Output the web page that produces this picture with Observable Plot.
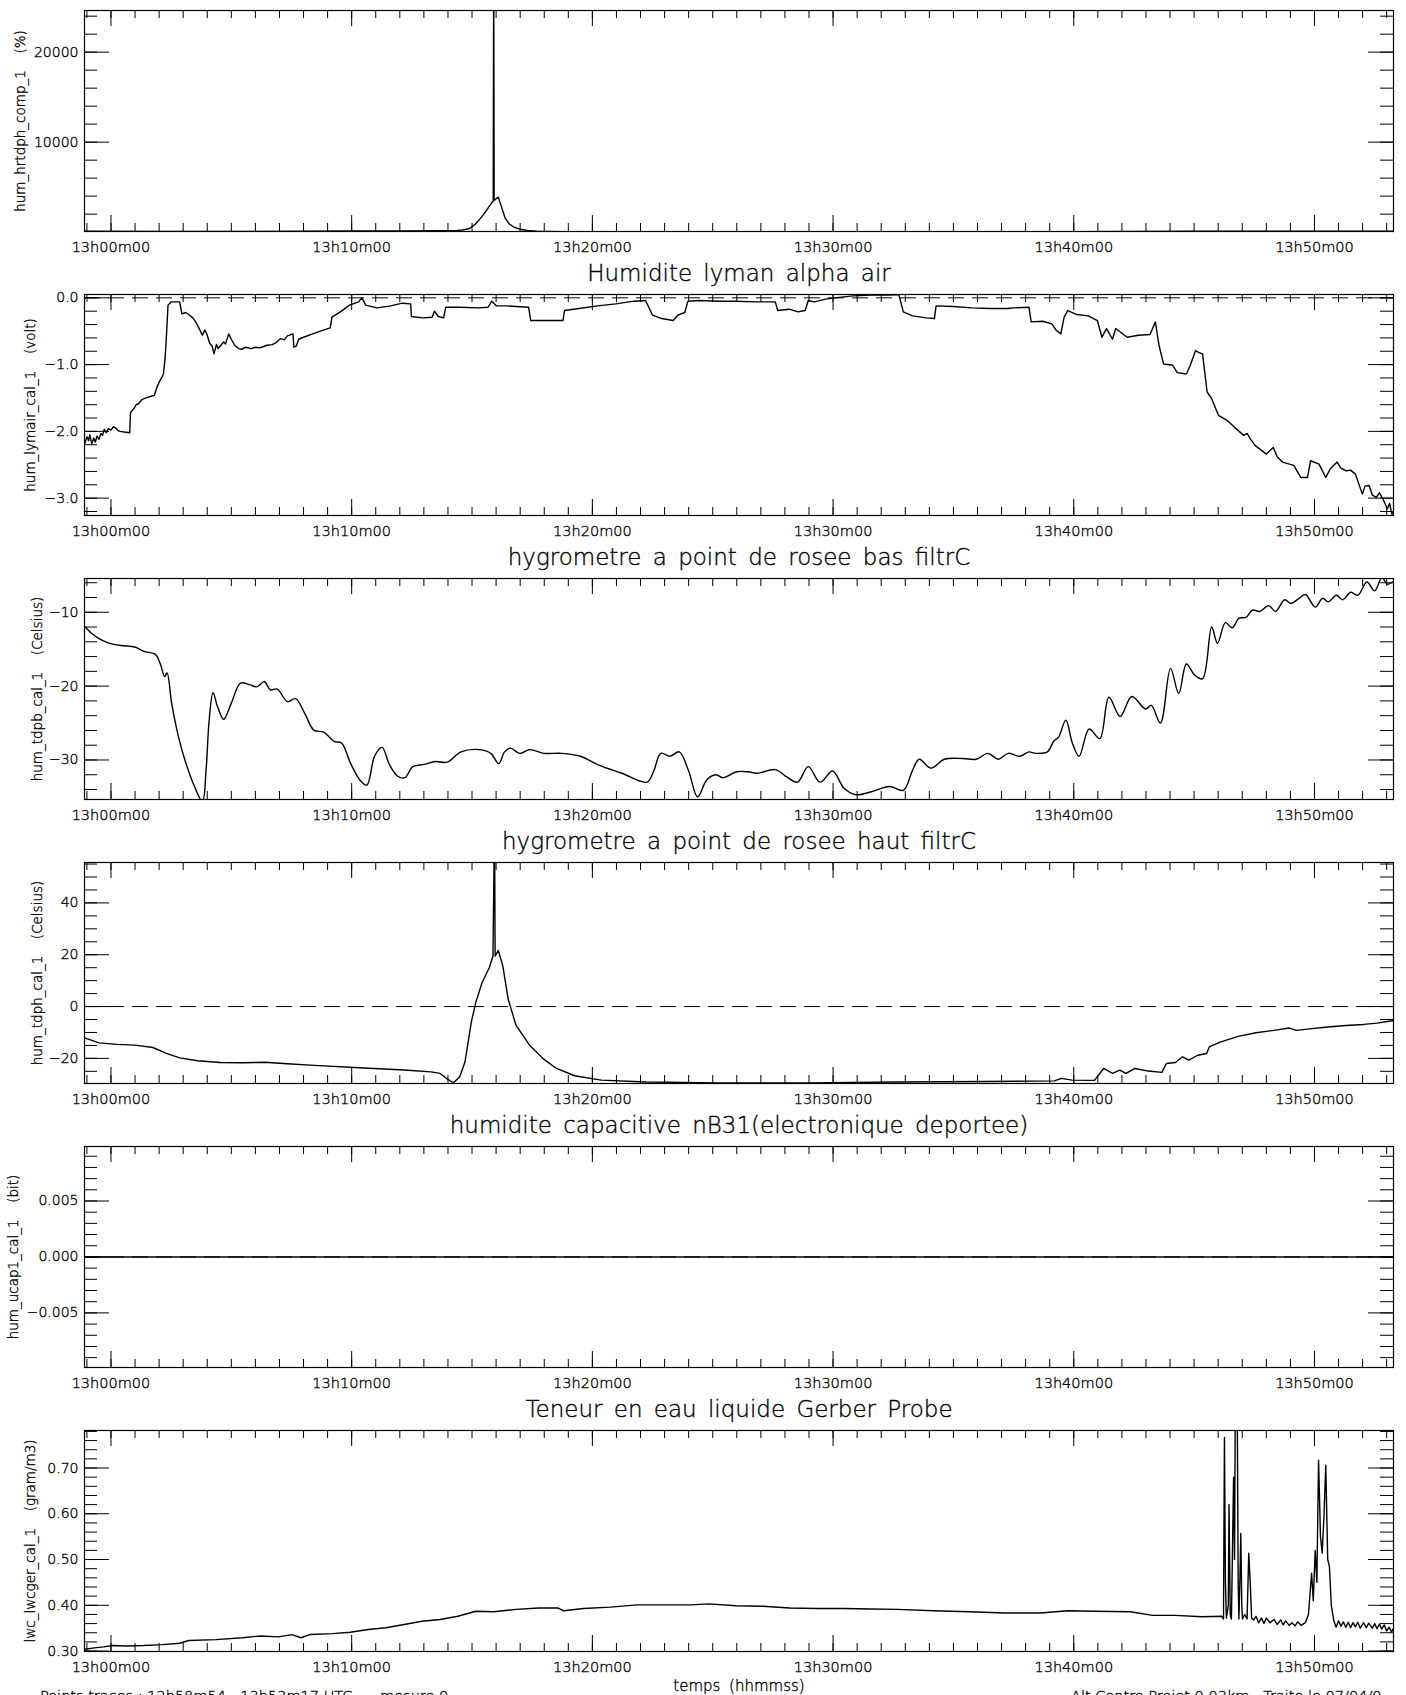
<!DOCTYPE html>
<html><head><meta charset="utf-8">
<script src="https://cdn.jsdelivr.net/npm/d3@7"></script>
<script src="https://cdn.jsdelivr.net/npm/@observablehq/plot@0.6"></script>
<style>
html,body{margin:0;padding:0;background:#fff;}
body{width:1406px;height:1695px;overflow:hidden;position:relative;font-family:"DejaVu Sans",sans-serif;}
svg{display:block;}
svg text{stroke:black;stroke-width:0.35px;}
.foot{position:absolute;top:1689px;font-size:14.5px;line-height:14.5px;white-space:pre;color:#000;font-weight:200;-webkit-text-stroke:0.35px black;}
</style></head><body>
<div id="charts"></div>
<div class="foot" style="left:40px" id="footL"></div>
<div class="foot" style="left:1071px" id="footR"></div>
<script>
// ---- time axis (minutes after 13h00m00) ----
const xStart = -66 / 60;      // 12h58m54
const xEnd = 3197 / 60;       // 13h53m17
const xMajor = [0, 10, 20, 30, 40, 50];
const xLabels = ["13h00m00", "13h10m00", "13h20m00", "13h30m00", "13h40m00", "13h50m00"];
const xMinor = d3.range(-1, 54);
const xTitle = "temps (hhmmss)";
const footLeft = "Points traces : 12h58m54 - 13h53m17 UTC      mesure 0";
const footRight = "Alt Centre Projet 0.03km   Traite le 07/04/0";

// ---- panel titles and y labels ----
const titles = ["", "Humidite lyman alpha air", "hygrometre a point de rosee bas filtrC",
  "hygrometre a point de rosee haut filtrC", "humidite capacitive nB31(electronique deportee)",
  "Teneur en eau liquide Gerber Probe"];
const yLabels = ["hum_hrtdph_comp_1  (%)", "hum_lymair_cal_1  (volt)", "hum_tdpb_cal_1  (Celsius)",
  "hum_tdph_cal_1  (Celsius)", "hum_ucap1_cal_1  (bit)", "lwc_lwcger_cal_1  (gram/m3)"];

// ---- series: [minutes after 13h00, value] ----
const hrtdph = [[-1.1,90],[2,85],[5,80],[8,90],[10,120],[12,140],[13.5,150],[14.3,160],[14.6,230],[14.88,370],
  [15.1,800],[15.25,1220],[15.4,1700],[15.53,2150],[15.7,2800],[15.82,3260],[15.88,3450],[15.9,30000],[15.92,3500],
  [15.95,3600],[16.09,3890],[16.2,3000],[16.37,1590],[16.55,900],[16.74,555],[17.0,320],[17.3,185],[17.7,110],
  [18.2,80],[18.6,60],[20,50],[25,50],[30,50],[35,55],[40,60],[45,90],[48,100],[53.28,100]];

const lymair = [[-1.08,-2.18],[-1.0,-2.08],[-0.93,-2.14],[-0.88,-2.05],[-0.8,-2.19],[-0.72,-2.1],[-0.65,-2.16],
  [-0.58,-2.07],[-0.5,-2.12],[-0.42,-2.03],[-0.35,-2.06],[-0.28,-1.97],[-0.2,-2.02],[-0.11,-1.96],[0.0,-1.98],
  [0.1,-1.93],[0.2,-1.95],[0.3,-1.99],[0.4,-2.0],[0.55,-2.01],[0.78,-2.02],[0.81,-1.72],[0.95,-1.66],[1.05,-1.6],
  [1.13,-1.59],[1.3,-1.52],[1.51,-1.49],[1.7,-1.47],[1.8,-1.46],[1.9,-1.35],[1.99,-1.27],[2.1,-1.2],[2.18,-1.14],
  [2.25,-0.9],[2.3,-0.6],[2.37,-0.11],[2.5,-0.06],[2.85,-0.06],[2.95,-0.24],[3.1,-0.22],[3.23,-0.25],[3.4,-0.3],
  [3.52,-0.36],[3.65,-0.45],[3.8,-0.56],[3.9,-0.48],[3.99,-0.55],[4.1,-0.68],[4.2,-0.72],[4.28,-0.84],[4.38,-0.7],
  [4.45,-0.76],[4.57,-0.71],[4.68,-0.66],[4.76,-0.69],[4.89,-0.54],[5.0,-0.62],[5.14,-0.71],[5.3,-0.76],[5.43,-0.77],
  [5.6,-0.74],[5.81,-0.76],[6.0,-0.74],[6.19,-0.75],[6.48,-0.71],[6.7,-0.7],[6.86,-0.67],[7.05,-0.61],[7.2,-0.63],
  [7.33,-0.57],[7.56,-0.54],[7.6,-0.74],[7.7,-0.72],[7.8,-0.62],[8.0,-0.59],[8.38,-0.54],[8.76,-0.49],[9.11,-0.45],
  [9.18,-0.29],[9.53,-0.21],[9.91,-0.11],[10.29,-0.06],[10.42,0.0],[10.5,-0.05],[10.58,-0.11],[11.05,-0.15],
  [11.63,-0.12],[12.1,-0.08],[12.45,-0.09],[12.48,-0.28],[12.96,-0.3],[13.34,-0.29],[13.44,-0.2],[13.6,-0.28],
  [13.82,-0.3],[13.91,-0.14],[14.49,-0.14],[15.25,-0.15],[15.67,-0.14],[15.82,-0.05],[16.01,-0.12],[16.39,-0.12],
  [17.35,-0.14],[17.44,-0.34],[18.11,-0.34],[18.78,-0.34],[18.84,-0.19],[19.45,-0.16],[20.21,-0.12],[20.97,-0.09],
  [21.74,-0.05],[22.21,-0.04],[22.5,-0.26],[22.88,-0.31],[23.36,-0.34],[23.55,-0.26],[23.84,-0.22],[23.97,-0.05],
  [24.41,-0.04],[25.32,-0.05],[25.9,-0.05],[26.85,-0.06],[27.6,-0.06],[27.7,-0.19],[28.17,-0.17],[28.55,-0.21],
  [28.84,-0.19],[28.97,-0.04],[29.22,-0.06],[29.69,-0.02],[30.07,0.0],[30.83,0.03],[31.59,0.04],[32.35,0.04],
  [32.73,0.05],[32.92,-0.21],[33.3,-0.27],[33.87,-0.3],[34.21,-0.31],[34.28,-0.12],[35.0,-0.13],[35.76,-0.15],
  [36.52,-0.16],[37.28,-0.16],[37.47,-0.15],[38.14,-0.14],[38.23,-0.36],[38.71,-0.35],[39.09,-0.39],[39.28,-0.49],
  [39.46,-0.54],[39.6,-0.29],[39.75,-0.19],[40.13,-0.25],[40.6,-0.27],[40.98,-0.34],[41.17,-0.59],[41.36,-0.46],
  [41.61,-0.62],[41.74,-0.46],[42.22,-0.59],[42.69,-0.56],[43.17,-0.55],[43.39,-0.36],[43.54,-0.71],[43.73,-0.99],
  [44.11,-1.01],[44.3,-1.12],[44.68,-1.14],[44.84,-1.01],[45.06,-0.79],[45.2,-0.82],[45.35,-0.84],[45.54,-1.41],
  [45.73,-1.51],[46.01,-1.76],[46.39,-1.84],[46.68,-1.94],[47.06,-2.06],[47.2,-2.03],[47.35,-2.12],[47.53,-2.21],
  [48.0,-2.34],[48.29,-2.24],[48.45,-2.38],[48.67,-2.46],[49.14,-2.51],[49.43,-2.69],[49.71,-2.69],[49.84,-2.44],
  [50.19,-2.49],[50.47,-2.69],[50.66,-2.56],[50.94,-2.46],[51.1,-2.55],[51.32,-2.59],[51.5,-2.58],[51.7,-2.64],
  [51.99,-2.94],[52.1,-2.82],[52.27,-2.81],[52.4,-2.95],[52.56,-2.99],[52.7,-2.92],[52.84,-3.01],[52.95,-3.1],
  [53.03,-3.16],[53.12,-3.08],[53.22,-3.24],[53.28,-3.2]];

const tdpb = [[-1.1,-11.9],[-0.82,-12.8],[-0.53,-13.5],[-0.15,-14.1],[0.42,-14.5],[0.99,-14.7],[1.37,-15.3],
  [1.85,-15.7],[2.04,-16.9],[2.23,-18.7],[2.33,-18.2],[2.52,-22.3],[2.8,-26.8],[3.09,-30.2],[3.47,-33.6],[3.8,-35.6],
  [3.95,-31.4],[4.08,-24.6],[4.24,-20.9],[4.43,-22.8],[4.68,-24.5],[5.0,-22.3],[5.38,-19.6],[5.76,-19.8],[6.05,-20.1],
  [6.37,-19.4],[6.62,-20.5],[6.91,-20.4],[7.33,-22.1],[7.67,-21.7],[8.05,-23.7],[8.44,-26.0],[8.82,-26.2],[9.29,-27.5],
  [9.58,-27.7],[9.96,-30.5],[10.34,-32.7],[10.63,-33.4],[10.95,-29.5],[11.26,-28.3],[11.58,-30.7],[11.91,-32.2],
  [12.21,-32.4],[12.54,-30.9],[13.02,-30.6],[13.49,-30.2],[13.97,-30.3],[14.54,-28.9],[15.31,-28.6],[15.78,-29.1],
  [16.11,-30.5],[16.35,-28.9],[16.6,-28.4],[16.98,-29.1],[17.4,-28.6],[17.98,-29.1],[18.74,-29.1],[19.5,-29.5],
  [20.27,-30.7],[21.22,-31.8],[22.27,-33.0],[22.56,-31.4],[22.84,-29.1],[23.23,-29.5],[23.61,-28.9],[23.99,-31.4],
  [24.37,-35.0],[24.75,-32.7],[25.13,-32.0],[25.42,-32.4],[25.99,-31.6],[26.47,-31.6],[26.85,-31.8],[27.6,-31.3],
  [28.08,-32.3],[28.52,-33.0],[28.97,-30.9],[29.46,-33.0],[29.98,-31.5],[30.45,-33.8],[30.93,-34.7],[31.59,-34.3],
  [32.35,-33.6],[32.92,-34.1],[33.3,-31.4],[33.58,-29.9],[34.06,-31.1],[34.63,-29.9],[35.39,-29.8],[35.95,-29.9],
  [36.43,-29.1],[36.87,-29.9],[37.28,-29.1],[37.76,-29.5],[38.14,-28.9],[38.42,-29.1],[38.9,-28.9],[39.18,-27.4],
  [39.37,-26.9],[39.67,-24.6],[39.94,-27.7],[40.22,-29.5],[40.64,-25.8],[41.08,-27.1],[41.46,-21.5],[41.93,-24.1],
  [42.41,-21.4],[42.98,-23.1],[43.22,-22.6],[43.6,-25.0],[44.02,-17.6],[44.36,-21.0],[44.68,-17.0],[45.02,-18.5],
  [45.35,-19.0],[45.73,-12.0],[45.97,-14.2],[46.3,-11.4],[46.58,-12.1],[46.87,-10.8],[47.15,-10.7],[47.43,-9.7],
  [47.72,-9.9],[48.1,-9.1],[48.38,-9.9],[48.76,-8.3],[49.01,-8.8],[49.33,-8.2],[49.62,-7.6],[50.03,-9.3],[50.34,-8.1],
  [50.57,-8.6],[50.91,-7.7],[51.17,-8.3],[51.51,-7.3],[51.8,-7.7],[52.18,-5.9],[52.5,-7.1],[52.8,-5.3],[53.03,-6.2],
  [53.28,-5.8]];

const tdph = [[-1.1,-12.1],[-0.49,-14.0],[0.25,-14.6],[1.0,-14.9],[1.74,-15.8],[2.3,-18.1],[2.86,-19.8],[3.6,-20.9],
  [4.54,-21.6],[5.47,-21.7],[6.4,-21.5],[7.33,-22.1],[8.45,-22.7],[10.31,-23.6],[12.18,-24.5],[13.29,-25.2],
  [13.67,-25.8],[13.93,-27.7],[14.23,-29.4],[14.49,-27.1],[14.71,-21.3],[14.97,-6.0],[15.16,1.7],[15.42,9.3],
  [15.72,15.1],[15.87,19.5],[15.92,60],[15.94,60],[15.96,19.5],[15.98,19.8],[16.09,21.7],[16.28,15.7],[16.5,2.9],
  [16.83,-7.3],[17.39,-14.9],[17.95,-20.1],[18.51,-23.9],[19.26,-26.7],[20.37,-28.4],[22.24,-29.1],[25.22,-29.5],
  [28.94,-29.5],[32.67,-29.1],[36.39,-28.9],[39.19,-28.7],[39.49,-27.7],[39.93,-28.4],[40.68,-28.5],[40.86,-28.5],
  [41.24,-23.9],[41.61,-25.8],[41.91,-24.5],[42.17,-25.8],[42.54,-23.9],[43.1,-24.9],[43.66,-25.4],[43.85,-22.0],
  [44.22,-21.6],[44.52,-19.4],[44.78,-20.7],[45.15,-18.8],[45.52,-18.1],[45.63,-15.6],[46.08,-13.7],[46.83,-11.5],
  [47.57,-10.1],[48.32,-9.2],[48.95,-8.3],[49.25,-9.2],[49.8,-8.6],[50.55,-7.9],[51.3,-7.3],[52.04,-6.9],[52.6,-6.4],
  [53.16,-5.6],[53.28,-5.5]];

const ucap1 = [[-1.1,0],[53.28,0]];

const lwcger = [[-1.1,0.304],[-0.68,0.307],[-0.31,0.309],[0.07,0.312],[0.63,0.311],[1.37,0.312],[2.12,0.314],
  [2.86,0.317],[3.23,0.323],[4.35,0.325],[5.47,0.329],[6.21,0.333],[6.96,0.331],[7.52,0.336],[7.89,0.329],[8.26,0.336],
  [9.2,0.338],[9.94,0.341],[10.69,0.347],[11.43,0.351],[12.18,0.358],[12.92,0.365],[13.67,0.369],[14.41,0.376],
  [15.16,0.387],[15.9,0.386],[16.83,0.391],[17.77,0.394],[18.58,0.394],[18.81,0.388],[19.63,0.393],[20.75,0.396],
  [21.86,0.401],[22.98,0.401],[24.1,0.401],[24.84,0.403],[25.96,0.399],[27.08,0.398],[28.2,0.394],[29.31,0.393],
  [30.43,0.393],[31.55,0.392],[32.67,0.391],[34.16,0.388],[35.65,0.386],[37.14,0.383],[38.63,0.383],[39.75,0.388],
  [40.86,0.387],[42.35,0.386],[43.28,0.378],[44.22,0.378],[45.33,0.375],[46.15,0.376],[46.22,0.37],[46.26,0.767],
  [46.3,0.45],[46.34,0.372],[46.42,0.40],[46.45,0.62],[46.5,0.38],[46.55,0.37],[46.64,0.68],[46.68,0.5],[46.71,0.85],
  [46.75,0.85],[46.79,0.85],[46.83,0.45],[46.86,0.37],[46.9,0.45],[46.94,0.557],[46.98,0.4],[47.01,0.37],[47.1,0.38],
  [47.2,0.37],[47.27,0.514],[47.33,0.45],[47.39,0.372],[47.48,0.368],[47.57,0.376],[47.68,0.362],[47.8,0.372],
  [47.9,0.36],[48.0,0.372],[48.15,0.362],[48.32,0.369],[48.45,0.358],[48.6,0.368],[48.7,0.357],[48.8,0.366],
  [48.95,0.356],[49.06,0.362],[49.2,0.355],[49.3,0.364],[49.45,0.356],[49.62,0.362],[49.75,0.38],[49.88,0.47],
  [49.95,0.41],[50.03,0.52],[50.1,0.45],[50.17,0.717],[50.25,0.55],[50.32,0.514],[50.4,0.6],[50.47,0.706],
  [50.55,0.5],[50.62,0.485],[50.7,0.4],[50.81,0.365],[50.9,0.352],[51.0,0.366],[51.1,0.354],[51.2,0.364],[51.3,0.352],
  [51.4,0.363],[51.5,0.351],[51.6,0.362],[51.7,0.353],[51.8,0.363],[51.9,0.35],[52.04,0.362],[52.15,0.351],
  [52.25,0.361],[52.4,0.35],[52.5,0.36],[52.6,0.349],[52.7,0.359],[52.79,0.348],[52.9,0.357],[53.0,0.344],
  [53.1,0.352],[53.2,0.342],[53.28,0.349]];

// ---- y axes per panel ----
const yDomains = [[70, 24630], [-3.26, 0.05], [-35.35, -5.43], [-29.7, 55.6], [-0.00988, 0.00987], [0.299, 0.782]];
const yMajors = [[10000, 20000], [-3, -2, -1, 0], [-30, -20, -10], [-20, 0, 20, 40], [-0.005, 0, 0.005], [0.3, 0.4, 0.5, 0.6, 0.7]];
const yMajorLabels = [["10000", "20000"], ["−3.0", "−2.0", "−1.0", "0.0"], ["−30", "−20", "−10"],
  ["−20", "0", "20", "40"], ["−0.005", "0.000", "0.005"], ["0.30", "0.40", "0.50", "0.60", "0.70"]];
const yMinorSteps = [2000, 0.2, 2, 5, 0.001, 0.02];
const yLabelOffsets = [64, 54, 47, 47, 71, 54];
const zeroDashed = [false, true, false, true, true, false];
const series = [hrtdph, lymair, tdpb, tdph, ucap1, lwcger];

// ---- layout ----
const W = 1406, ML = 84, MR = 13, FH = 221;
const FONT = "DejaVu Sans";

function minorTicks(domain, step) {
  const lo = Math.min(domain[0], domain[1]), hi = Math.max(domain[0], domain[1]);
  const out = [];
  for (let k = Math.ceil(lo / step - 1e-9); k * step <= hi + 1e-12; k++) out.push(+(k * step).toFixed(6));
  return out;
}

function panel(i) {
  const top = i === 0 ? 10 : 37;
  const bottom = i === 5 ? 44 : 26;
  const height = top + FH + bottom;
  const data = series[i].map(([t, v]) => ({t, v}));
  const yMin = minorTicks(yDomains[i], yMinorSteps[i]);
  const xW = W - ML - MR;
  const marks = [];
  if (zeroDashed[i]) marks.push(Plot.ruleY([0], {stroke: "black", strokeWidth: 1, strokeDasharray: "16,8"}));
  marks.push(Plot.line(data, {x: "t", y: "v", stroke: "black", strokeWidth: 1.4,
    curve: i === 2 ? "catmull-rom" : "linear", clip: true}));
  // x ticks (inward, top and bottom)
  marks.push(Plot.tickX(xMinor, {x: d => d, insetTop: FH - 8, stroke: "black"}));
  marks.push(Plot.tickX(xMinor, {x: d => d, insetBottom: FH - 8, stroke: "black"}));
  marks.push(Plot.tickX(xMajor, {x: d => d, insetTop: FH - 16, stroke: "black"}));
  marks.push(Plot.tickX(xMajor, {x: d => d, insetBottom: FH - 16, stroke: "black"}));
  // y ticks (inward, left and right)
  marks.push(Plot.tickY(yMin, {y: d => d, insetRight: xW - 13, stroke: "black"}));
  marks.push(Plot.tickY(yMin, {y: d => d, insetLeft: xW - 13, stroke: "black"}));
  marks.push(Plot.tickY(yMajors[i], {y: d => d, insetRight: xW - 25, stroke: "black"}));
  marks.push(Plot.tickY(yMajors[i], {y: d => d, insetLeft: xW - 25, stroke: "black"}));
  marks.push(Plot.frame({stroke: "black", strokeWidth: 1.2}));
  marks.push(Plot.axisX(xMajor, {anchor: "bottom", tickSize: 0, tickPadding: 10, label: null,
    tickFormat: d => xLabels[xMajor.indexOf(d)], fontSize: 14.5}));
  marks.push(Plot.axisY(yMajors[i], {anchor: "left", tickSize: 0, tickPadding: 6, label: null,
    tickFormat: d => yMajorLabels[i][yMajors[i].indexOf(d)], fontSize: 14}));
  marks.push(Plot.text([yLabels[i]], {frameAnchor: "left", dx: -yLabelOffsets[i], rotate: -90, text: d => d,
    fontSize: 13.5, textAnchor: "middle", lineAnchor: "middle"}));
  if (titles[i]) marks.push(Plot.text([titles[i]], {frameAnchor: "top", dy: -21, text: d => d,
    fontSize: 23, lineAnchor: "middle"}));
  if (i === 5) marks.push(Plot.text([xTitle], {frameAnchor: "bottom", dy: 35, text: d => d,
    fontSize: 15, lineAnchor: "middle"}));
  return Plot.plot({
    width: W, height, marginLeft: ML, marginRight: MR, marginTop: top, marginBottom: bottom,
    x: {domain: [xStart, xEnd]}, y: {domain: yDomains[i]},
    style: {fontFamily: FONT, fontWeight: 200, color: "black", background: "white", wordSpacing: "4px"},
    marks
  });
}

const host = document.getElementById("charts");
for (let i = 0; i < 6; i++) host.append(panel(i));
document.getElementById("footL").textContent = footLeft;
document.getElementById("footR").textContent = footRight;
</script></body></html>
